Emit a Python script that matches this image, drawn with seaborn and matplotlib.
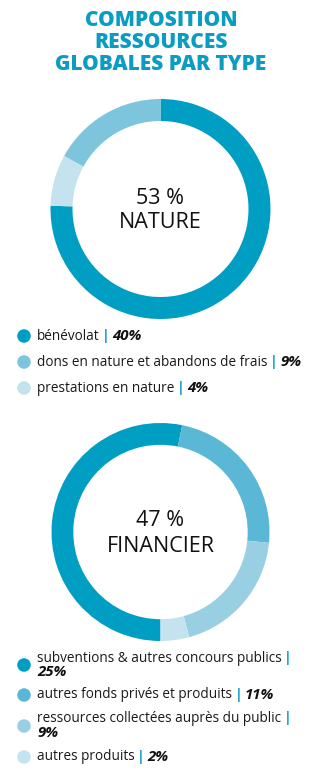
import matplotlib
matplotlib.use("Agg")
import matplotlib.pyplot as plt
import seaborn as sns

# ---------------- data ----------------
title_lines = ["COMPOSITION", "RESSOURCES", "GLOBALES PAR TYPE"]

nature_labels = ["bénévolat", "dons en nature et abandons de frais", "prestations en nature"]
nature_values = [40, 9, 4]
nature_pct = ["40%", "9%", "4%"]
nature_center = ["53 %", "NATURE"]

fin_labels = ["subventions & autres concours publics", "autres fonds privés et produits",
              "ressources collectées auprès du public", "autres produits"]
fin_values = [25, 11, 9, 2]
fin_pct = ["25%", "11%", "9%", "2%"]
fin_center = ["47 %", "FINANCIER"]

# ---------------- style ----------------
sns.set_theme(style="white")
FONT = ["Open Sans", "DejaVu Sans"]
plt.rcParams["font.family"] = FONT

TEAL = "#0A9CC2"
nature_colors = sns.color_palette(["#009EC3", "#7DC5DC", "#C4E3EF"])
fin_colors = sns.color_palette(["#009EC3", "#5AB8D6", "#98CFE3", "#C4E3EF"])

W, H, DPI = 322, 775, 100
fig = plt.figure(figsize=(W / DPI, H / DPI), dpi=DPI)
fig.patch.set_facecolor("white")

# overlay axes in pixel coordinates
ax0 = fig.add_axes([0, 0, 1, 1])
ax0.set_xlim(0, W)
ax0.set_ylim(H, 0)
ax0.axis("off")


def donut(cx, cy, r, values, colors, order, start, center_txt, dy):
    ax = fig.add_axes([(cx - r) / W, (H - cy - r) / H, 2 * r / W, 2 * r / H])
    vals = [values[i] for i in order]
    cols = [colors[i] for i in order]
    ax.pie(vals, colors=cols, startangle=start, counterclock=False, radius=1,
           wedgeprops=dict(width=0.2, linewidth=0))
    ax.set_xlim(-1, 1)
    ax.set_ylim(-1, 1)
    ax.set_aspect("auto")
    ax.axis("off")
    ax.text(0, -dy[0] / r, center_txt[0], ha="center", va="center", fontsize=15.5, color="#111111")
    ax.text(0, -dy[1] / r, center_txt[1], ha="center", va="center", fontsize=15.5, color="#111111")


donut(160.5, 209, 110, nature_values, nature_colors, [0, 2, 1], 90, nature_center, (-11, 14))
donut(160.5, 532, 109, fin_values, fin_colors, [0, 1, 2, 3], 270, fin_center, (-12, 15))

# title
for y, line in zip([20, 43, 65], title_lines):
    ax0.text(161, y, line, ha="center", va="center", fontsize=15, fontweight="heavy", color=TEAL)

fig.canvas.draw()
renderer = fig.canvas.get_renderer()
FS = 9.8


def legend_row(x, y, label, pct, wrap=False, y2=None):
    t = ax0.text(x, y, label, ha="left", va="center", fontsize=FS, color="#1a1a1a")
    w = t.get_window_extent(renderer).width
    xb = x + w + 2.5
    b = ax0.text(xb, y, "|", ha="left", va="center", fontsize=FS + 0.5, color=TEAL, fontweight="bold")
    wb = b.get_window_extent(renderer).width
    if wrap:
        ax0.text(x, y2, pct, ha="left", va="center", fontsize=FS + 1, color="#111111",
                 fontweight="bold", fontstyle="italic")
    else:
        ax0.text(xb + wb + 2.5, y, pct, ha="left", va="center", fontsize=FS + 1, color="#111111",
                 fontweight="bold", fontstyle="italic")


# nature legend
ys1 = [336, 362, 388]
ax0.scatter([24] * 3, ys1, s=95, c=nature_colors, linewidths=0)
for y, lab, p in zip(ys1, nature_labels, nature_pct):
    legend_row(37, y, lab, p)

# financier legend
circ2 = [665, 695, 726, 757]
ax0.scatter([24] * 4, circ2, s=95, c=fin_colors, linewidths=0)
legend_row(37, 658, fin_labels[0], fin_pct[0], wrap=True, y2=672)
legend_row(37, 695, fin_labels[1], fin_pct[1])
legend_row(37, 718, fin_labels[2], fin_pct[2], wrap=True, y2=733)
legend_row(37, 757, fin_labels[3], fin_pct[3])

fig.savefig("out.png", dpi=DPI, facecolor="white")
